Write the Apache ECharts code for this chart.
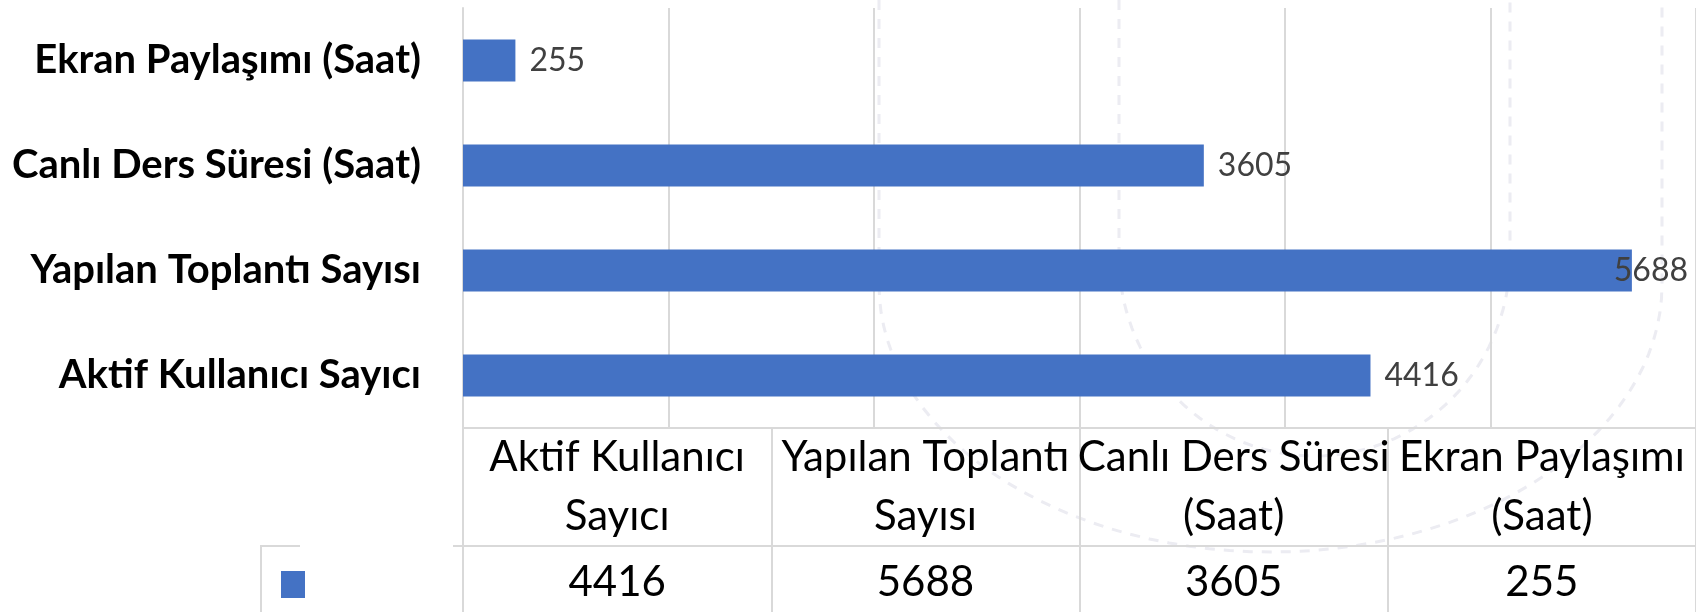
<!DOCTYPE html>
<html>
<head>
<meta charset="utf-8">
<script src="https://cdn.jsdelivr.net/npm/echarts@6/dist/echarts.min.js"></script>
<style>
    html, body { margin: 0; padding: 0; background: #fff; }
    #chart { width: 1696px; height: 612px; }
</style>
</head>
<body>
<div id="chart"></div>
<script>
// veriler (alttan üste)
const categories = ['Aktif Kullanıcı Sayıcı', 'Yapılan Toplantı Sayısı', 'Canlı Ders Süresi (Saat)', 'Ekran Paylaşımı (Saat)'];
const values = [4416, 5688, 3605, 255];
// veri tablosu başlıkları (iki satır)
const tableHeaders = ['Aktif Kullanıcı\nSayıcı', 'Yapılan Toplantı\nSayısı', 'Canlı Ders Süresi\n(Saat)', 'Ekran Paylaşımı\n(Saat)'];
const xTicks = [0, 1000, 2000, 3000, 4000, 5000, 6000];

const gridColor = '#d9d9d9';
const barColor = '#4472c4';
const font = 'Lato, "Open Sans", sans-serif';

const chart = echarts.init(document.getElementById('chart'));

// arka plandaki kesikli filigran (U şekli)
function uShape(xl, xr, yTop, y0, b) {
    const cx = (xl + xr) / 2, a = (xr - xl) / 2;
    const pts = [[xl, yTop], [xl, y0]];
    for (let i = 1; i < 60; i++) {
        const t = Math.PI - Math.PI * i / 60;
        pts.push([cx + a * Math.cos(t), y0 + b * Math.sin(t)]);
    }
    pts.push([xr, y0], [xr, yTop]);
    return {
        type: 'polyline', z: -5, silent: true,
        shape: { points: pts },
        style: { stroke: '#ececf2', lineWidth: 3, lineDash: [10, 9], fill: null }
    };
}

const option = {
    animation: false,
    backgroundColor: '#fff',
    grid: { left: 463, right: 0, top: 8, bottom: 184, containLabel: false, outerBoundsMode: 'none' },
    legend: {
        left: 276, top: 566,
        itemWidth: 24, itemHeight: 27,
        icon: 'rect',
        formatter: () => '',
        selectedMode: false
    },
    graphic: [
        uShape(879, 1662, 0, 285, 267),
        uShape(1119, 1510, 0, 257, 199),
        { type: 'line', shape: { x1: 261, y1: 546, x2: 261, y2: 612 }, style: { stroke: gridColor, lineWidth: 2 } },
        { type: 'line', shape: { x1: 260, y1: 546, x2: 300, y2: 546 }, style: { stroke: gridColor, lineWidth: 2 } },
        { type: 'line', shape: { x1: 453, y1: 546, x2: 463, y2: 546 }, style: { stroke: gridColor, lineWidth: 2 } }
    ],
    xAxis: [
        {
            type: 'value',
            min: xTicks[0],
            max: xTicks[xTicks.length - 1],
            interval: 1000,
            axisLine: { show: false },
            axisTick: { show: false },
            axisLabel: { show: false },
            splitLine: { lineStyle: { color: gridColor, width: 2 } }
        },
        {
            // veri tablosu: başlık satırı
            type: 'category',
            position: 'bottom',
            offset: 0,
            data: tableHeaders,
            axisLine: { lineStyle: { color: gridColor, width: 2 } },
            axisTick: { show: true, interval: 0, length: 118, lineStyle: { color: gridColor, width: 2 } },
            axisLabel: {
                interval: 0, margin: 0,
                color: '#000', fontFamily: font, fontSize: 42, lineHeight: 59,
                width: 330, overflow: 'truncate', ellipsis: ''
            },
            splitLine: { show: false }
        },
        {
            // veri tablosu: değer satırı
            type: 'category',
            position: 'bottom',
            offset: 118,
            data: values.map(String),
            axisLine: { lineStyle: { color: gridColor, width: 2 } },
            axisTick: { show: true, interval: 0, length: 80, lineStyle: { color: gridColor, width: 2 } },
            axisLabel: {
                interval: 0, margin: 8,
                color: '#000', fontFamily: font, fontSize: 42, lineHeight: 57
            },
            splitLine: { show: false }
        }
    ],
    yAxis: {
        type: 'category',
        data: categories,
        axisLine: { show: true, lineStyle: { color: gridColor, width: 2 } },
        axisTick: { show: false },
        axisLabel: {
            margin: 42,
            color: '#000', fontFamily: font, fontWeight: 'bold', fontSize: 40
        }
    },
    series: [
        {
            name: 'Seri 1',
            type: 'bar',
            xAxisIndex: 0,
            data: values,
            barCategoryGap: '60%',
            itemStyle: { color: barColor },
            label: {
                show: true,
                position: 'right',
                distance: 14,
                color: '#404040',
                fontFamily: font,
                fontSize: 32
            },
            // Excel gibi: etiket grafiğin dışına taşarsa içeri çek
            labelLayout: function (p) {
                const over = p.labelRect.x + p.labelRect.width - (chart.getWidth() - 8);
                return over > 0 ? { dx: -over } : {};
            }
        }
    ]
};

chart.setOption(option);
window.addEventListener('resize', () => chart.resize());
</script>
</body>
</html>
